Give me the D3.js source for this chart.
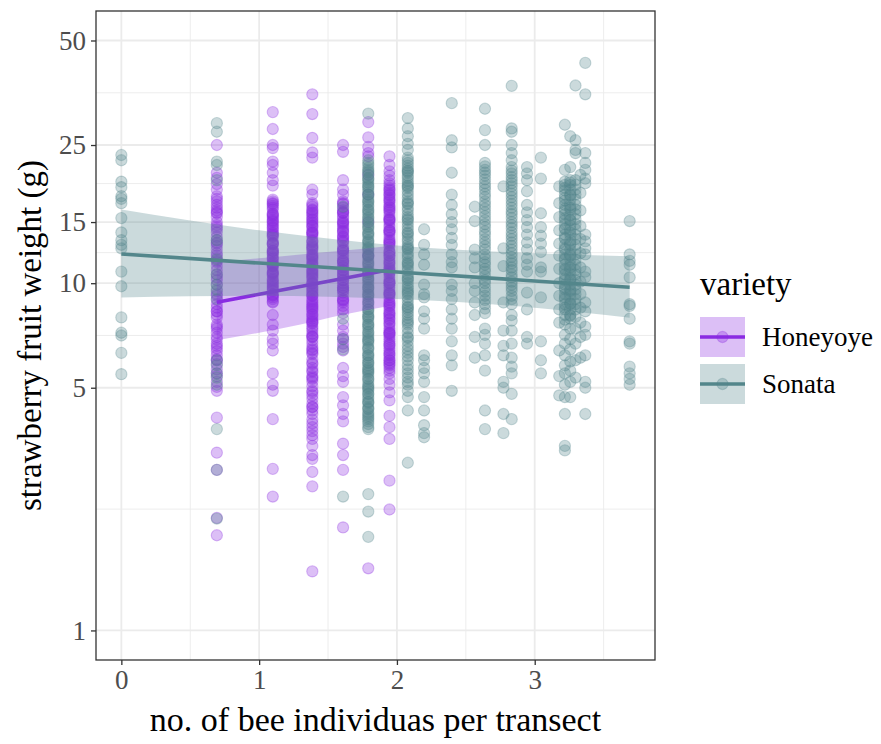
<!DOCTYPE html>
<html>
<head>
<meta charset="utf-8">
<script src="https://cdn.jsdelivr.net/npm/d3@7"></script>
<style>
  body { margin: 0; background: #fff; }
  text { font-family: "Liberation Serif", "Times New Roman", serif; }
</style>
</head>
<body>
<svg id="chart" width="881" height="744"></svg>
<script>
// ---- data -------------------------------------------------------------
const varieties = ["Honeyoye", "Sonata"];
const xTicks = [0, 1, 2, 3];
const xMinor = [0.5, 1.5, 2.5, 3.5];
const yTicks = [1, 5, 10, 15, 25, 50];
const yTickLabels = ["1", "5", "10", "15", "25", "50"];

// x = bees per transect (log scale), one column of fruit weights (g) per x
const honeyoyeX = [0.693, 1.099, 1.386, 1.609, 1.792, 1.946];
const honeyoyeWeights = [
  [25.0, 20.8, 20.1, 18.6, 17.2, 16.5, 15.9, 15.0, 14.3, 13.6, 13.1, 12.5, 12.0, 11.5, 10.9, 10.2, 9.2, 8.7, 8.3, 7.96, 7.6, 7.2, 6.89, 6.6, 6.37, 6.04, 5.65, 5.03, 4.9, 4.1, 3.25, 2.9, 2.11, 1.88,
   17.8, 16.8, 16.2, 15.5, 14.7, 14.0, 13.3, 12.8, 12.2, 11.8, 11.2, 10.6, 9.9, 9.5, 8.95, 8.5, 8.1, 7.4, 7.0, 6.5, 6.2, 5.85, 5.4, 5.2,
   19.3, 17.5, 16.0, 14.5, 13.0, 11.6, 10.4, 9.3, 8.3, 7.5, 6.7, 6.0, 5.5],
  [31.1, 27.8, 25.0, 24.5, 22.4, 21.9, 20.8, 19.8, 19.1, 17.4, 16.7, 15.9, 15.4, 15.0, 14.5, 14.0, 13.6, 13.1, 12.6, 12.3, 11.9, 11.5, 11.2, 10.8, 10.5, 10.1, 9.8, 9.5, 9.2, 8.8, 8.1, 7.6, 7.3, 6.9, 6.7, 6.4, 5.5, 5.1, 4.9, 4.06, 2.92, 2.43,
   17.0, 16.3, 15.7, 15.2, 14.7, 14.2, 13.8, 13.3, 12.9, 12.4, 12.1, 11.7, 11.3, 11.0, 10.6, 10.3, 10.0, 9.6, 9.3, 9.0,
   16.9, 15.6, 14.8, 13.9, 13.0, 12.2, 11.4, 10.7, 9.9, 9.1,
   17.2, 16.5, 15.8, 15.1, 14.4, 13.7, 13.0, 12.4, 11.8, 11.2, 10.7, 10.2, 9.7, 9.25, 8.85],
  [35.0, 30.7, 26.2, 23.8, 23.0, 18.6, 18.0, 16.6, 16.0, 15.5, 15.0, 14.5, 14.0, 13.6, 13.1, 12.7, 12.3, 11.9, 11.5, 11.2, 10.8, 10.5, 10.1, 9.8, 9.5, 9.2, 8.8, 8.6, 8.3, 8.0, 7.8, 7.5, 7.3, 7.0, 6.7, 6.4, 6.04, 5.7, 5.4, 5.2, 4.9, 4.64, 4.4, 4.2, 3.95, 3.75, 3.56, 3.4, 3.2, 3.12, 2.86, 2.6, 1.48,
   17.0, 16.3, 15.7, 15.2, 14.7, 14.2, 13.8, 13.3, 12.9, 12.5, 12.1, 11.7, 11.3, 11.0, 10.6, 10.3, 9.95, 9.6, 9.3, 9.0, 8.7, 8.45, 8.15, 7.9, 7.65, 7.4, 7.15, 6.85, 6.55, 6.25, 5.9, 5.55, 5.3, 5.05, 4.75, 4.5, 4.3, 4.05, 3.85, 3.65,
   15.9, 14.9, 13.9, 12.8, 11.8, 10.9, 10.0, 9.2, 8.4, 7.7, 7.0, 6.3, 5.6,
   16.8, 15.3, 14.0, 12.6, 11.4, 10.4, 9.4, 8.55, 7.75, 7.05, 6.45, 5.85, 5.35, 4.85, 4.4, 16.2, 14.6, 13.2, 12.0, 10.7, 9.7, 8.9, 8.1],
  [25.0, 23.9, 19.8, 18.6, 18.0, 17.2, 16.5, 15.9, 15.4, 14.9, 14.4, 14.0, 13.5, 13.1, 12.6, 12.2, 11.8, 11.4, 11.1, 10.7, 10.4, 10.0, 9.7, 9.4, 9.0, 8.6, 8.2, 7.0, 6.7, 6.4, 5.7, 5.4, 5.2, 4.7, 4.45, 4.2, 4.0, 3.45, 3.2, 2.9, 1.98,
   16.9, 16.2, 15.6, 15.1, 14.6, 14.2, 13.7, 13.3, 12.8, 12.4, 12.0, 11.6, 11.2, 10.9, 10.5, 10.2, 9.85, 9.55, 9.2, 8.8, 8.4,
   16.0, 14.8, 13.6, 12.5, 11.5, 10.6, 9.7, 8.9, 7.6, 7.3, 6.9, 6.55,
   17.0, 16.0, 15.0, 14.1, 13.2, 12.4, 11.6, 10.9, 10.2, 9.55, 8.95],
  [29.1, 26.3, 24.7, 23.7, 23.2, 20.5, 18.0, 15.0, 12.0, 1.51],
  [23.2, 21.9, 21.0, 20.4, 19.4, 18.8, 18.2, 17.6, 17.1, 16.5, 16.0, 15.4, 15.0, 14.5, 14.0, 13.5, 13.1, 12.7, 12.2, 11.8, 11.5, 11.1, 10.8, 10.4, 10.0, 9.7, 9.4, 9.1, 8.8, 8.5, 8.2, 8.0, 7.7, 7.4, 7.2, 7.0, 6.8, 6.5, 6.3, 6.1, 5.9, 5.7, 5.5, 5.3, 5.1, 4.85, 4.6, 4.15, 3.85, 3.56, 2.7, 2.23,
   19.1, 18.5, 17.9, 17.3, 16.8, 16.2, 15.7, 15.2, 14.7, 14.2, 13.8, 13.3, 12.9, 12.4, 12.0, 11.6, 11.3, 10.9, 10.6, 10.2, 9.85, 9.55, 9.25, 8.95, 8.65, 8.35, 8.1, 7.85, 7.55, 7.3, 7.1, 6.9, 6.65, 6.4, 6.2, 6.0, 5.8, 5.6,
   18.0, 16.6, 15.3, 14.1, 13.0, 12.0, 11.0, 10.1, 9.3, 8.6, 7.9, 7.2, 6.6, 6.0,
   19.8, 18.6, 17.4, 16.3, 15.2, 14.2, 13.2, 12.3, 11.4, 10.7, 10.0, 9.35, 8.75, 8.2, 7.65, 7.15, 6.7, 6.25, 5.85]
];

const sonataX = [0, 0.693, 1.609, 1.792, 2.079, 2.197, 2.398, 2.565, 2.639, 2.773, 2.833, 2.944, 3.045, 3.178, 3.219, 3.258, 3.296, 3.332, 3.367, 3.689];
const sonataWeights = [
  [23.4, 22.6, 19.6, 18.9, 17.8, 17.5, 17.0, 15.4, 14.0, 13.3, 12.9, 12.6, 10.8, 9.8, 7.97, 7.2, 7.07, 6.3, 5.47],
  [28.9, 27.3, 22.4, 21.9, 19.8, 13.3, 11.7, 10.6, 9.9, 9.6, 9.0, 6.0, 5.8, 5.5, 5.35, 5.1, 3.8, 2.9, 2.1],
  [16.6, 7.9, 6.9, 6.45, 2.43],
  [30.8, 22.6, 21.9, 21.2, 20.5, 19.8, 19.2, 18.6, 18.0, 17.4, 16.8, 16.3, 15.8, 15.2, 14.8, 14.3, 13.8, 13.3, 12.9, 12.5, 12.1, 11.7, 11.3, 10.9, 10.6, 10.2, 9.9, 9.6, 9.3, 9.0, 8.7, 8.4, 8.1, 7.9, 7.6, 7.4, 7.1, 6.9, 6.7, 6.45, 6.2, 6.0, 5.8, 5.65, 5.5, 5.3, 5.1, 4.96, 4.8, 4.64, 4.5, 4.34, 4.2, 4.06, 3.93, 3.8, 2.47, 2.2, 1.86,
   22.2, 21.5, 20.8, 20.1, 19.5, 18.9, 18.3, 17.7, 17.1, 16.6, 16.0, 15.5, 15.0, 14.5, 14.0, 13.6, 13.1, 12.7, 12.3, 11.9, 11.5, 11.1, 10.75, 10.4, 10.05, 9.75, 9.45, 9.15, 8.85, 8.55, 8.25, 8.0, 7.75, 7.5, 7.25, 7.0, 6.8, 6.55, 6.3, 6.1, 5.9, 5.7, 5.55, 5.4, 5.2, 5.0, 4.9, 4.7, 4.55, 4.4, 4.25, 4.1, 4.0, 3.85,
   20.0, 18.0, 16.2, 14.6, 13.2, 12.0, 10.8, 9.7, 8.8, 8.0, 7.2, 6.5, 5.9, 5.3, 4.8, 4.35,
   21.0, 19.0, 17.2, 15.4, 13.9, 12.6, 11.4, 10.3, 9.25, 8.4, 7.6, 6.85, 6.2, 5.6, 5.05, 4.55, 4.15],
  [29.9, 27.9, 26.5, 25.2, 24.2, 23.0, 22.2, 21.4, 20.8, 20.1, 19.4, 18.8, 18.0, 17.2, 16.5, 15.8, 15.2, 14.6, 14.0, 13.4, 12.9, 12.5, 12.0, 11.5, 11.1, 10.6, 10.2, 9.8, 9.5, 9.1, 8.7, 8.4, 8.1, 7.8, 7.4, 7.0, 6.6, 6.3, 6.0, 5.65, 5.35, 5.1, 4.9, 4.7, 4.3, 3.04,
   22.6, 21.8, 21.1, 20.4, 19.7, 19.1, 18.4, 17.6, 16.9, 16.2, 15.5, 14.9, 14.3, 13.7, 13.2, 12.7, 12.2, 11.8, 11.3, 10.9, 10.4, 10.0, 9.65, 9.3, 8.9, 8.55, 8.25, 7.95, 7.6, 7.2, 6.8, 6.45, 6.15, 5.8, 5.5, 5.2,
   21.0, 19.0, 17.0, 15.3, 13.9, 12.6, 11.4, 10.3, 9.4, 8.5, 7.7, 6.95],
  [14.3, 12.9, 12.1, 11.3, 9.9, 9.3, 9.1, 8.3, 7.9, 7.4, 6.2, 6.0, 5.7, 5.5, 5.2, 4.7, 4.3, 3.9, 3.7, 3.6],
  [33.0, 25.8, 24.6, 20.8, 18.0, 16.8, 15.8, 15.0, 14.3, 13.5, 12.9, 12.1, 11.5, 11.1, 9.9, 9.5, 9.0, 8.4, 7.9, 7.4, 6.8, 6.2, 5.8, 4.9],
  [16.6, 15.1, 12.5, 11.8, 11.1, 10.0, 9.5, 8.8, 8.1, 7.0, 6.1],
  [31.8, 27.6, 25.0, 22.2, 21.2, 20.4, 19.4, 18.6, 17.7, 16.8, 16.0, 15.2, 14.5, 13.8, 13.1, 12.5, 11.8, 11.3, 10.8, 10.2, 9.7, 9.2, 8.7, 8.2, 7.4, 7.1, 6.7, 6.2, 5.6, 4.3, 3.8,
   21.7, 20.8, 19.9, 19.0, 18.1, 17.2, 16.4, 15.6, 14.8, 14.1, 13.4, 12.8, 12.1, 11.5, 11.0, 10.5, 10.0, 9.45, 8.95, 8.45],
  [19.0, 12.6, 11.2, 8.8, 7.3, 6.6, 6.2, 5.2, 5.0, 4.2, 3.7],
  [37.0, 27.9, 27.3, 25.0, 23.7, 22.6, 21.6, 20.7, 19.8, 19.0, 18.1, 17.3, 16.5, 15.8, 15.0, 14.4, 13.7, 13.1, 12.5, 11.9, 11.4, 10.9, 10.4, 9.9, 9.5, 9.0, 8.7, 8.1, 7.8, 7.3, 6.7, 6.1, 5.75, 5.5, 4.8, 4.06,
   21.1, 20.2, 19.4, 18.5, 17.7, 16.9, 16.1, 15.4, 14.7, 14.0, 13.4, 12.8, 12.2, 11.6, 11.1, 10.6, 10.1, 9.7, 9.2],
  [21.6, 20.7, 19.8, 18.4, 16.8, 16.0, 15.2, 14.5, 13.8, 13.1, 12.5, 11.8, 11.3, 10.8, 9.4, 8.4, 7.0, 6.7],
  [23.0, 20.0, 15.9, 14.5, 13.7, 13.0, 12.3, 11.1, 10.8, 9.1, 6.8, 6.0, 5.5],
  [19.0, 17.0, 15.5, 14.2, 13.0, 12.0, 11.0, 10.0, 9.2, 8.4, 7.7, 6.4, 5.4, 4.75],
  [28.6, 21.2, 19.2, 18.0, 16.8, 15.8, 14.8, 13.8, 12.9, 12.1, 11.3, 10.6, 9.9, 9.3, 8.7, 8.1, 7.6, 7.1, 6.7, 6.2, 5.8, 5.5, 5.1, 4.7, 4.2, 3.4, 3.3,
   19.6, 18.5, 17.3, 16.2, 15.2, 14.3, 13.4, 12.5, 11.7, 10.9, 10.2, 9.6, 9.0, 8.4, 7.85,
   18.8, 17.6, 16.4, 15.4, 14.4, 13.5, 12.6, 11.8, 11.0, 10.3, 9.7, 9.1, 8.5],
  [26.5, 21.6, 19.8, 18.6, 17.4, 16.3, 15.2, 14.3, 13.3, 12.5, 11.7, 10.9, 10.2, 9.6, 9.0, 8.4, 7.9, 7.4, 6.9, 6.45, 5.95, 5.6, 5.2, 4.7,
   19.2, 18.0, 16.8, 15.7, 14.7, 13.8, 12.9, 12.1, 11.3, 10.6, 9.9, 9.3, 8.7, 8.1,
   19.5, 17.9, 16.5, 15.2, 14.0, 13.0, 12.0, 11.1, 10.3, 9.5, 8.75, 8.05],
  [37.1, 25.8, 24.2, 23.7, 19.2, 18.0, 16.8, 15.8, 14.8, 13.8, 12.9, 12.1, 11.3, 10.6, 9.9, 9.3, 8.7, 8.0, 7.4, 6.7, 6.0, 5.35,
   19.8, 18.6, 17.4, 16.3, 15.3, 14.3, 13.4, 12.5, 11.7, 10.9, 10.2, 9.6, 9.0, 8.4],
  [20.5, 18.2, 16.2, 14.6, 13.4, 12.2, 11.1, 10.1, 9.3, 8.5, 7.7, 7.0, 6.1],
  [43.1, 35.0, 23.7, 22.2, 21.2, 20.0, 19.4, 13.8, 13.2, 12.6, 12.1, 10.8, 10.4, 8.8, 8.3, 7.5, 7.1, 6.2, 5.2, 5.0, 4.2],
  [15.1, 12.1, 11.6, 11.3, 10.4, 8.7, 8.6, 7.9, 6.8, 6.7, 5.75, 5.5, 5.3, 5.1]
];

// fitted trend with its confidence ribbon, per variety
const honeyoyeBandX = [0.693, 1.0, 1.3, 1.6, 1.946];
const honeyoyeLower = [6.85, 7.2, 7.6, 8.1, 8.6];
const honeyoyeFit   = [8.81, 9.29, 9.78, 10.3, 10.94];
const honeyoyeUpper = [11.5, 11.8, 12.1, 12.4, 12.8];

const sonataBandX = [0, 1, 2, 3, 3.689];
const sonataLower = [9.1, 9.2, 9.0, 8.5, 7.95];
const sonataFit   = [12.14, 11.43, 10.77, 10.15, 9.74];
const sonataUpper = [16.3, 14.2, 12.85, 12.2, 11.95];

// ---- layout -----------------------------------------------------------
const colors = { Honeyoye: "#8A2BE2", Sonata: "#53868B" };
const alpha = 0.3;
const panel = { left: 96, top: 11, right: 655, bottom: 660 };

const svg = d3.select("#chart");

const x = d3.scaleLinear().domain([-0.184, 3.873]).range([panel.left, panel.right]);
const y = d3.scaleLog().domain([0.822, 60.8]).range([panel.bottom, panel.top]);

// grid
const grid = svg.append("g");
const yMinor = d3.range(yTicks.length - 1).map(i => Math.sqrt(yTicks[i] * yTicks[i + 1]));
grid.selectAll(".ymin").data(yMinor).join("line")
  .attr("x1", panel.left).attr("x2", panel.right)
  .attr("y1", d => y(d)).attr("y2", d => y(d))
  .attr("stroke", "#ebebeb").attr("stroke-width", 0.9);
grid.selectAll(".xmin").data(xMinor).join("line")
  .attr("y1", panel.top).attr("y2", panel.bottom)
  .attr("x1", d => x(d)).attr("x2", d => x(d))
  .attr("stroke", "#ebebeb").attr("stroke-width", 0.9);
grid.selectAll(".ymaj").data(yTicks).join("line")
  .attr("x1", panel.left).attr("x2", panel.right)
  .attr("y1", d => y(d)).attr("y2", d => y(d))
  .attr("stroke", "#ebebeb").attr("stroke-width", 1.8);
grid.selectAll(".xmaj").data(xTicks).join("line")
  .attr("y1", panel.top).attr("y2", panel.bottom)
  .attr("x1", d => x(d)).attr("x2", d => x(d))
  .attr("stroke", "#ebebeb").attr("stroke-width", 1.8);

// points
function flatten(xs, ws, variety) {
  const out = [];
  xs.forEach((xv, i) => ws[i].forEach(w => out.push({ x: xv, w, variety })));
  return out;
}
const points = flatten(honeyoyeX, honeyoyeWeights, "Honeyoye")
  .concat(flatten(sonataX, sonataWeights, "Sonata"));

svg.append("g").selectAll("circle").data(points).join("circle")
  .attr("cx", d => x(d.x)).attr("cy", d => y(d.w)).attr("r", 5.6)
  .attr("fill", d => colors[d.variety]).attr("fill-opacity", alpha)
  .attr("stroke", d => colors[d.variety]).attr("stroke-opacity", alpha)
  .attr("stroke-width", 1.1);

// smooth ribbons and lines
const smooths = [
  { variety: "Honeyoye", xs: honeyoyeBandX, lo: honeyoyeLower, fit: honeyoyeFit, hi: honeyoyeUpper },
  { variety: "Sonata", xs: sonataBandX, lo: sonataLower, fit: sonataFit, hi: sonataUpper }
];
const sm = svg.append("g");
smooths.forEach(s => {
  const rows = s.xs.map((xv, i) => ({ x: xv, lo: s.lo[i], fit: s.fit[i], hi: s.hi[i] }));
  sm.append("path").datum(rows)
    .attr("d", d3.area().curve(d3.curveMonotoneX)
      .x(d => x(d.x)).y0(d => y(d.lo)).y1(d => y(d.hi)))
    .attr("fill", colors[s.variety]).attr("fill-opacity", alpha);
  sm.append("path").datum(rows)
    .attr("d", d3.line().x(d => x(d.x)).y(d => y(d.fit)))
    .attr("fill", "none").attr("stroke", colors[s.variety]).attr("stroke-width", 3.6);
});

// panel border
svg.append("rect")
  .attr("x", panel.left).attr("y", panel.top)
  .attr("width", panel.right - panel.left).attr("height", panel.bottom - panel.top)
  .attr("fill", "none").attr("stroke", "#333").attr("stroke-width", 1.3);

// axes
const xAxis = svg.append("g").attr("transform", `translate(0,${panel.bottom})`)
  .call(d3.axisBottom(x).tickValues(xTicks).tickSize(5).tickPadding(5).tickFormat(d3.format("d")));
const yAxis = svg.append("g").attr("transform", `translate(${panel.left},0)`)
  .call(d3.axisLeft(y).tickValues(yTicks).tickSize(5).tickPadding(5)
    .tickFormat((d, i) => yTickLabels[i]));
[xAxis, yAxis].forEach(a => {
  a.select(".domain").remove();
  a.selectAll(".tick line").attr("stroke", "#333").attr("stroke-width", 1.3);
  a.selectAll(".tick text").attr("fill", "#4d4d4d")
    .style("font-family", '"Liberation Serif", serif').style("font-size", "27px");
});

// axis titles
svg.append("text").attr("x", (panel.left + panel.right) / 2).attr("y", 731)
  .attr("text-anchor", "middle").attr("font-size", 34).attr("fill", "#000")
  .text("no. of bee individuas per transect");
svg.append("text")
  .attr("transform", `translate(41,${(panel.top + panel.bottom) / 2}) rotate(-90)`)
  .attr("text-anchor", "middle").attr("font-size", 33).attr("fill", "#000")
  .text("strawberry fruit weight (g)");

// legend
const lg = svg.append("g").attr("transform", "translate(700,0)");
lg.append("text").attr("x", 0).attr("y", 295).attr("font-size", 33).text("variety");
varieties.forEach((v, i) => {
  const cy = 337 + i * 47;
  const key = lg.append("g");
  key.append("rect").attr("x", 0).attr("y", cy - 20).attr("width", 45).attr("height", 40)
    .attr("fill", colors[v]).attr("fill-opacity", alpha);
  key.append("line").attr("x1", 0).attr("x2", 45).attr("y1", cy).attr("y2", cy)
    .attr("stroke", colors[v]).attr("stroke-width", 3.6);
  key.append("circle").attr("cx", 22.5).attr("cy", cy).attr("r", 5.6)
    .attr("fill", colors[v]).attr("fill-opacity", alpha)
    .attr("stroke", colors[v]).attr("stroke-opacity", alpha).attr("stroke-width", 1.1);
  lg.append("text").attr("x", 62).attr("y", cy).attr("dy", "0.35em")
    .attr("font-size", 27).text(v);
});
</script>
</body>
</html>
